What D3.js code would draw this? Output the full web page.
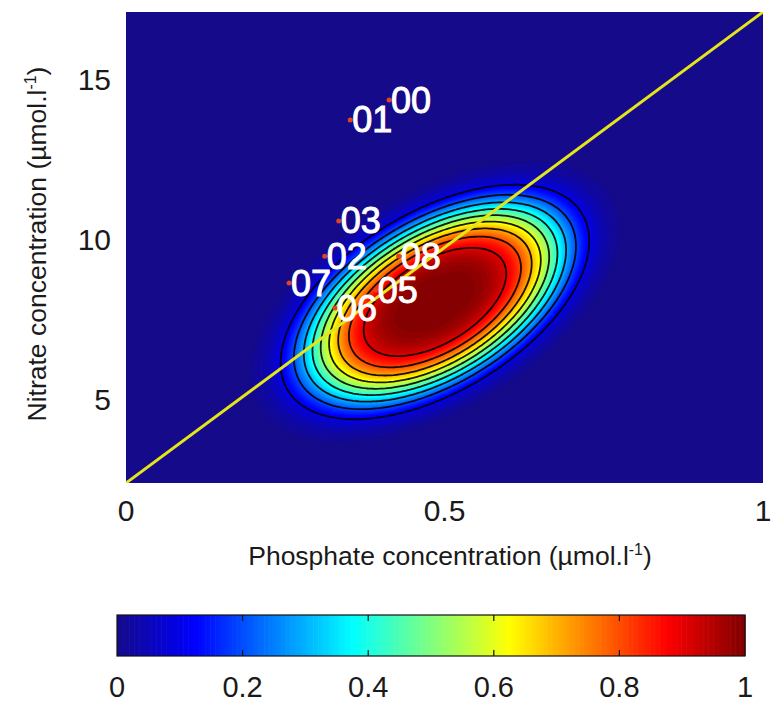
<!DOCTYPE html>
<html>
<head>
<meta charset="utf-8">
<script src="https://cdn.jsdelivr.net/npm/d3@7"></script>
<style>
  html, body { margin: 0; padding: 0; background: #fff; }
  svg text { font-family: "Liberation Sans", Arial, sans-serif; }
</style>
</head>
<body>
<svg id="chart" width="774" height="704"></svg>
<script>
// ---------- data ----------
const xDomain = [0, 1];
const yDomain = [2.4, 17.1];
const xTicks = [0, 0.5, 1];
const xTickLabels = ["0", "0.5", "1"];
const yTicks = [5, 10, 15];
const yTickLabels = ["5", "10", "15"];
const colorTicks = [0, 0.2, 0.4, 0.6, 0.8, 1];
const colorTickLabels = ["0", "0.2", "0.4", "0.6", "0.8", "1"];

// density surface parameters (peak-normalised to 1)
const densityCenter = [0.485, 8.05];
const densitySpread = [0.139, 2.1];
const densityCorrelation = 0.52;
const densityShape = 2.0;
const contourLevels = [0.1, 0.2, 0.3, 0.4, 0.5, 0.6, 0.7, 0.8, 0.9];

// reference line (corner to corner)
const lineX = [0, 1];
const lineY = [2.4, 17.1];

// labelled years
const yearLabels = ["00", "01", "03", "02", "08", "07", "05", "06"];
const yearPhosphate = [0.413, 0.352, 0.334, 0.312, 0.428, 0.256, 0.392, 0.328];
const yearNitrate = [14.35, 13.73, 10.58, 9.48, 9.48, 8.64, 8.42, 7.86];

// ---------- drawing ----------
const svg = d3.select("#chart");
const W = 774, H = 704;
svg.append("rect").attr("width", W).attr("height", H).attr("fill", "#fff");

const plot = { left: 126, right: 763, top: 12, bottom: 483 };
const xs = d3.scaleLinear().domain(xDomain).range([plot.left, plot.right]);
const ys = d3.scaleLinear().domain(yDomain).range([plot.bottom, plot.top]);

function jet(t) {
  t = Math.max(0, Math.min(1, t));
  const c = v => Math.round(255 * Math.max(0, Math.min(1, v)));
  let r = 1.5 - Math.abs(4 * t - 3);
  let g = 1.5 - Math.abs(4 * t - 2);
  let b = 1.5 - Math.abs(4 * t - 1);
  // slight violet tint of the darkest blues, as in the picture
  const tint = Math.max(0, 1 - t / 0.12);
  r = Math.max(0, r) + 0.08 * tint;
  g = Math.max(0, g) + 0.04 * tint;
  b = b + 0.04 * tint;
  return `rgb(${c(r)},${c(g)},${c(b)})`;
}

function density(x, y) {
  const dx = (x - densityCenter[0]) / densitySpread[0];
  const dy = (y - densityCenter[1]) / densitySpread[1];
  const r = densityCorrelation;
  const q = (dx * dx - 2 * r * dx * dy + dy * dy) / (1 - r * r);
  return Math.exp(-Math.pow(q / 2, densityShape));
}

const nx = 220, ny = 170;
const values = new Array(nx * ny);
for (let j = 0; j < ny; j++) {
  const yv = yDomain[1] - (j + 0.5) / ny * (yDomain[1] - yDomain[0]);
  for (let i = 0; i < nx; i++) {
    const xv = xDomain[0] + (i + 0.5) / nx * (xDomain[1] - xDomain[0]);
    values[j * nx + i] = density(xv, yv);
  }
}

const gridToScreen = d3.geoTransform({
  point: function (gx, gy) {
    const xv = xDomain[0] + gx / nx * (xDomain[1] - xDomain[0]);
    const yv = yDomain[1] - gy / ny * (yDomain[1] - yDomain[0]);
    this.stream.point(xs(xv), ys(yv));
  }
});
const path = d3.geoPath(gridToScreen);

svg.append("clipPath").attr("id", "plotClip")
  .append("rect")
  .attr("x", plot.left).attr("y", plot.top)
  .attr("width", plot.right - plot.left).attr("height", plot.bottom - plot.top);

const g = svg.append("g").attr("clip-path", "url(#plotClip)");
g.append("rect")
  .attr("x", plot.left).attr("y", plot.top)
  .attr("width", plot.right - plot.left).attr("height", plot.bottom - plot.top)
  .attr("fill", jet(0));

const bandThresholds = d3.range(0.01, 1, 0.01);
const bands = d3.contours().size([nx, ny]).thresholds(bandThresholds)(values);
g.append("g").selectAll("path").data(bands).join("path")
  .attr("d", path)
  .attr("fill", d => jet(d.value + 0.005))
  .attr("stroke", d => jet(d.value + 0.005))
  .attr("stroke-width", 0.6);

const lines = d3.contours().size([nx, ny]).thresholds(contourLevels)(values);
g.append("g").selectAll("path").data(lines).join("path")
  .attr("d", path)
  .attr("fill", "none")
  .attr("stroke", "#000")
  .attr("stroke-width", 1.8)
  .attr("stroke-opacity", 0.9);

g.append("line")
  .attr("x1", xs(lineX[0])).attr("y1", ys(lineY[0]))
  .attr("x2", xs(lineX[1])).attr("y2", ys(lineY[1]))
  .attr("stroke", "#e4e61a").attr("stroke-width", 3);

const pts = yearLabels.map((l, i) => ({ label: l, x: yearPhosphate[i], y: yearNitrate[i] }));
g.append("g").selectAll("circle").data(pts).join("circle")
  .attr("cx", d => xs(d.x)).attr("cy", d => ys(d.y)).attr("r", 2.5)
  .attr("fill", "#e8401a");
g.append("g").selectAll("text").data(pts).join("text")
  .attr("x", d => xs(d.x) + 2).attr("y", d => ys(d.y))
  .attr("dominant-baseline", "central")
  .attr("fill", "#fff")
  .attr("stroke", "#fff").attr("stroke-width", 1)
  .attr("font-size", 36)
  .text(d => d.label);

// axes tick labels
svg.append("g").selectAll("text").data(xTicks).join("text")
  .attr("x", d => xs(d)).attr("y", 510)
  .attr("text-anchor", "middle").attr("dominant-baseline", "central")
  .attr("font-size", 30).attr("fill", "#1a1a1a")
  .text((d, i) => xTickLabels[i]);

svg.append("g").selectAll("text").data(yTicks).join("text")
  .attr("x", 111).attr("y", d => ys(d))
  .attr("text-anchor", "end").attr("dominant-baseline", "central")
  .attr("font-size", 30).attr("fill", "#1a1a1a")
  .text((d, i) => yTickLabels[i]);

// axis titles
function unitTitle(sel, main) {
  sel.append("tspan").text(main + " (\u00b5mol.l");
  sel.append("tspan").attr("font-size", "60%").attr("dy", -10).text("-1");
  sel.append("tspan").attr("dy", 10).text(")");
}
const xt = svg.append("text")
  .attr("x", 450).attr("y", 565)
  .attr("text-anchor", "middle")
  .attr("font-size", 26.5).attr("fill", "#1a1a1a");
unitTitle(xt, "Phosphate concentration");

const yt = svg.append("text")
  .attr("transform", "translate(46,244) rotate(-90)")
  .attr("text-anchor", "middle")
  .attr("font-size", 26.5).attr("fill", "#1a1a1a");
unitTitle(yt, "Nitrate concentration");

// colorbar
const cb = { left: 117, right: 745, top: 615, bottom: 656 };
const cs = d3.scaleLinear().domain([0, 1]).range([cb.left, cb.right]);
const steps = d3.range(0, 256).map(i => i / 256);
svg.append("g").selectAll("rect").data(steps).join("rect")
  .attr("x", d => cs(d)).attr("y", cb.top)
  .attr("width", cs(1 / 256) - cs(0) + 0.6).attr("height", cb.bottom - cb.top)
  .attr("fill", d => jet(d + 0.5 / 256));
svg.append("rect")
  .attr("x", cb.left).attr("y", cb.top)
  .attr("width", cb.right - cb.left).attr("height", cb.bottom - cb.top)
  .attr("fill", "none").attr("stroke", "#111").attr("stroke-width", 1.2);
const innerTicks = colorTicks.slice(1, -1);
svg.append("g").selectAll("line.t").data(innerTicks).join("line")
  .attr("x1", d => cs(d)).attr("x2", d => cs(d))
  .attr("y1", cb.top).attr("y2", cb.top + 6)
  .attr("stroke", "#111").attr("stroke-width", 1.2);
svg.append("g").selectAll("line.b").data(innerTicks).join("line")
  .attr("x1", d => cs(d)).attr("x2", d => cs(d))
  .attr("y1", cb.bottom - 6).attr("y2", cb.bottom)
  .attr("stroke", "#111").attr("stroke-width", 1.2);
svg.append("g").selectAll("text").data(colorTicks).join("text")
  .attr("x", d => cs(d)).attr("y", 697)
  .attr("text-anchor", "middle")
  .attr("font-size", 29).attr("fill", "#1a1a1a")
  .text((d, i) => colorTickLabels[i]);
</script>
</body>
</html>
